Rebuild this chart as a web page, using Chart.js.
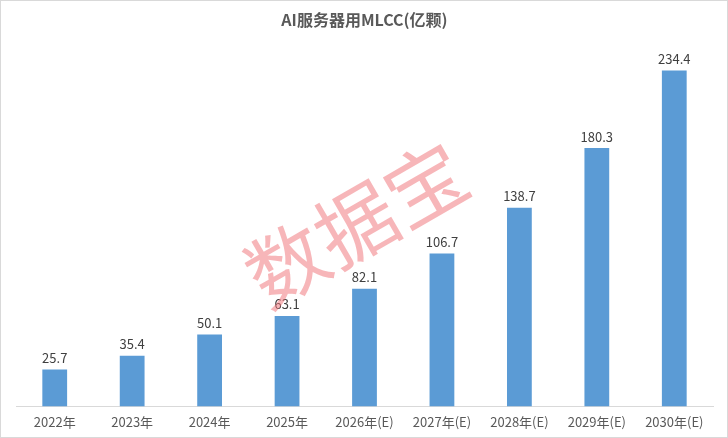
<!DOCTYPE html>
<html><head><meta charset="utf-8">
<script src="https://cdn.jsdelivr.net/npm/chart.js@4/dist/chart.umd.min.js"></script>
<style>html,body{margin:0;padding:0;background:#fff;}canvas{display:block;}</style>
</head><body>
<canvas id="c" width="728" height="438"></canvas>
<script>
const categories = ["2022年","2023年","2024年","2025年","2026年(E)","2027年(E)","2028年(E)","2029年(E)","2030年(E)"];
const values = [25.7, 35.4, 50.1, 63.1, 82.1, 106.7, 138.7, 180.3, 234.4];
const titleText = "AI服务器用MLCC(亿颗)";
const watermarkText = "数据宝";

const FONT = "'Noto Sans CJK SC', 'Noto Sans', sans-serif";

const extras = {
  id: 'extras',
  afterDatasetsDraw(chart) {
    const ctx = chart.ctx;
    const meta = chart.getDatasetMeta(0);
    ctx.save();
    ctx.fillStyle = '#404040';
    ctx.font = "13px " + FONT;
    ctx.textAlign = 'center';
    ctx.textBaseline = 'bottom';
    meta.data.forEach((bar, i) => {
      ctx.fillText(values[i].toFixed(1), bar.x, bar.y - 5);
    });
    ctx.restore();
  },
  afterDraw(chart) {
    const ctx = chart.ctx;
    ctx.save();
    ctx.translate(356, 224);
    ctx.rotate(-30 * Math.PI / 180);
    ctx.fillStyle = 'rgba(240,110,115,0.5)';
    ctx.font = "400 80px " + FONT;
    ctx.textAlign = 'center';
    ctx.textBaseline = 'middle';
    ctx.fillText(watermarkText, 0, 0);
    ctx.restore();
    ctx.save();
    ctx.strokeStyle = '#D9D9D9';
    ctx.lineWidth = 1;
    ctx.strokeRect(0.5, 0.5, chart.width - 1, chart.height - 1);
    ctx.restore();
  }
};

new Chart(document.getElementById('c'), {
  type: 'bar',
  data: {
    labels: categories,
    datasets: [{
      data: values,
      backgroundColor: '#5B9BD5',
      categoryPercentage: 1,
      barPercentage: 0.32
    }]
  },
  options: {
    responsive: false,
    animation: false,
    layout: { padding: { left: 16, right: 15, top: 0, bottom: 0 } },
    plugins: {
      legend: { display: false },
      tooltip: { enabled: false },
      title: {
        display: true,
        text: titleText,
        color: '#595959',
        font: { family: FONT, size: 16, weight: 'bold' },
        padding: { top: 10, bottom: 19 }
      }
    },
    scales: {
      x: {
        grid: { display: false, drawTicks: false },
        border: { color: '#D9D9D9', width: 1 },
        ticks: { color: '#595959', font: { family: FONT, size: 13 }, padding: 8, maxRotation: 0, autoSkip: false }
      },
      y: {
        display: false,
        min: 0,
        max: 250
      }
    }
  },
  plugins: [extras]
});
</script>
</body></html>
